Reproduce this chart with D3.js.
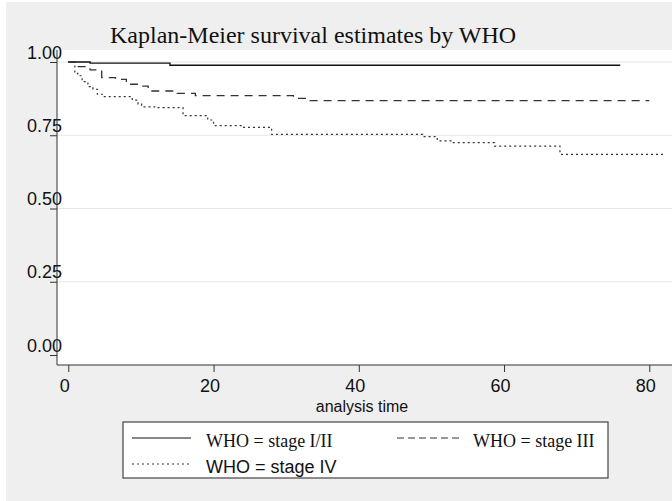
<!DOCTYPE html>
<meta charset="utf-8">
<title>Kaplan-Meier survival estimates by WHO</title>
<head>
    <script src="https://cdn.jsdelivr.net/npm/d3@7"></script>
</head>
<body style="margin: 0px; background: #fff">
<script>

    // step times (analysis time) and survival for each WHO stage, last point = end of follow-up
    var stage12Time = [0, 3, 14, 76];
    var stage12Surv = [1, 0.996, 0.989, 0.989];

    var stage3Time = [0, 1, 3, 4.6, 6.5, 8, 9.5, 11, 15, 17.5, 31, 33, 80];
    var stage3Surv = [1, 0.984, 0.973, 0.947, 0.941, 0.924, 0.918, 0.901, 0.893, 0.885, 0.876, 0.868, 0.868];

    var stage4Time = [0, 0.9, 1.3, 1.9, 2.7, 3.4, 4.0, 4.8, 8.8, 9.6, 10.1, 11.9, 15.8, 19.2, 20, 24, 28,
        48.8, 50.8, 52.9, 58.7, 67.7, 82];
    var stage4Surv = [1, 0.961, 0.953, 0.933, 0.916, 0.907, 0.890, 0.882, 0.870, 0.856, 0.847, 0.844, 0.817,
        0.802, 0.783, 0.777, 0.753, 0.745, 0.731, 0.725, 0.713, 0.685, 0.685];

    var xTicks = [0, 20, 40, 60, 80];
    var yTicks = [0, 0.25, 0.5, 0.75, 1];
    var gridTicks = [0.25, 0.5, 0.75, 1];

    var legendLabels = ["WHO = stage I/II", "WHO = stage III", "WHO = stage IV"];

    var width = 672,
            height = 501;

    var svg = d3.select("body").append("svg")
            .attr("width", width)
            .attr("height", height)
            .style("display", "block");

    // outer grey background
    svg.append("rect").attr("x", 6).attr("y", 2).attr("width", width - 6).attr("height", height - 2)
            .attr("fill", "#efefef");

    var x = d3.scaleLinear().domain([0, 80]).range([68.3, 649.3]);
    var y = d3.scaleLinear().domain([0, 1]).range([355, 62]);

    // plot region
    svg.append("rect").attr("x", 57).attr("y", 50).attr("width", width - 57).attr("height", 315)
            .attr("fill", "#fff");

    svg.selectAll(".grid").data(gridTicks).enter().append("line")
            .attr("x1", 57).attr("x2", width)
            .attr("y1", function (d) { return y(d); })
            .attr("y2", function (d) { return y(d); })
            .attr("stroke", "#e6e6e6").attr("stroke-width", 1.2);

    // title
    svg.append("text").attr("x", 110).attr("y", 43)
            .style("font-family", "'Liberation Serif', 'Times New Roman', serif")
            .style("font-size", "24px").attr("fill", "#111")
            .text("Kaplan-Meier survival estimates by WHO");

    // y axis
    var yAxis = svg.append("g").attr("transform", "translate(57,0)")
            .call(d3.axisLeft(y).tickValues(yTicks).tickSize(7).tickSizeOuter(0).tickFormat(d3.format(".2f")));
    yAxis.select(".domain").remove();
    yAxis.append("line").attr("x1", 0).attr("x2", 0).attr("y1", 50).attr("y2", 365).attr("stroke", "#333");
    yAxis.selectAll(".tick line").attr("stroke", "#333");
    yAxis.selectAll(".tick text")
            .attr("x", 5).attr("dy", "-4px")
            .style("font-family", "'Liberation Sans', Arial, sans-serif")
            .style("font-size", "18px").attr("fill", "#111");

    // x axis
    var xAxis = svg.append("g").attr("transform", "translate(0,365)")
            .call(d3.axisBottom(x).tickValues(xTicks).tickSize(7).tickSizeOuter(0));
    xAxis.select(".domain").remove();
    xAxis.append("line").attr("x1", 57).attr("x2", width).attr("y1", 0).attr("y2", 0).attr("stroke", "#333");
    xAxis.selectAll(".tick line").attr("stroke", "#333");
    xAxis.selectAll(".tick text")
            .attr("x", -4).attr("y", 27).attr("dy", null)
            .style("font-family", "'Liberation Sans', Arial, sans-serif")
            .style("font-size", "18px").attr("fill", "#111");

    svg.append("text").attr("x", 362).attr("y", 412).attr("text-anchor", "middle")
            .style("font-family", "'Liberation Sans', Arial, sans-serif")
            .style("font-size", "16px").attr("fill", "#111")
            .text("analysis time");

    // survival curves
    var line = d3.line()
            .x(function (d) { return x(d[0]); })
            .y(function (d) { return y(d[1]); })
            .curve(d3.curveStepAfter);

    var series = [
        {t: stage12Time, s: stage12Surv, dash: null, color: "#111", w: 1.4},
        {t: stage3Time, s: stage3Surv, dash: "8,6", color: "#333", w: 1.3},
        {t: stage4Time, s: stage4Surv, dash: "2,3", color: "#333", w: 1.2}
    ];

    series.forEach(function (sr) {
        var pts = sr.t.map(function (t, i) { return [t, sr.s[i]]; });
        svg.append("path").datum(pts)
                .attr("d", line)
                .attr("fill", "none")
                .attr("stroke", sr.color)
                .attr("stroke-width", sr.w)
                .attr("stroke-dasharray", sr.dash);
    });

    // legend
    var lg = svg.append("g");
    lg.append("rect").attr("x", 123).attr("y", 422).attr("width", 485).attr("height", 56)
            .attr("fill", "#fff").attr("stroke", "#444").attr("stroke-width", 1.2);

    var legendPos = [
        {x1: 132, x2: 191, ly: 438, tx: 206, ty: 447, font: "'Liberation Serif', 'Times New Roman', serif"},
        {x1: 397, x2: 462, ly: 438, tx: 473, ty: 447, font: "'Liberation Serif', 'Times New Roman', serif"},
        {x1: 132, x2: 191, ly: 464, tx: 206, ty: 473, font: "'Liberation Sans', Arial, sans-serif"}
    ];

    legendLabels.forEach(function (lab, i) {
        var p = legendPos[i], sr = series[i];
        lg.append("line").attr("x1", p.x1).attr("x2", p.x2).attr("y1", p.ly).attr("y2", p.ly)
                .attr("stroke", sr.color).attr("stroke-width", 1.2)
                .attr("stroke-dasharray", i === 1 ? "7,4" : sr.dash);
        lg.append("text").attr("x", p.tx).attr("y", p.ty)
                .style("font-family", p.font).style("font-size", "18px").attr("fill", "#111")
                .text(lab);
    });

</script>
</body>
